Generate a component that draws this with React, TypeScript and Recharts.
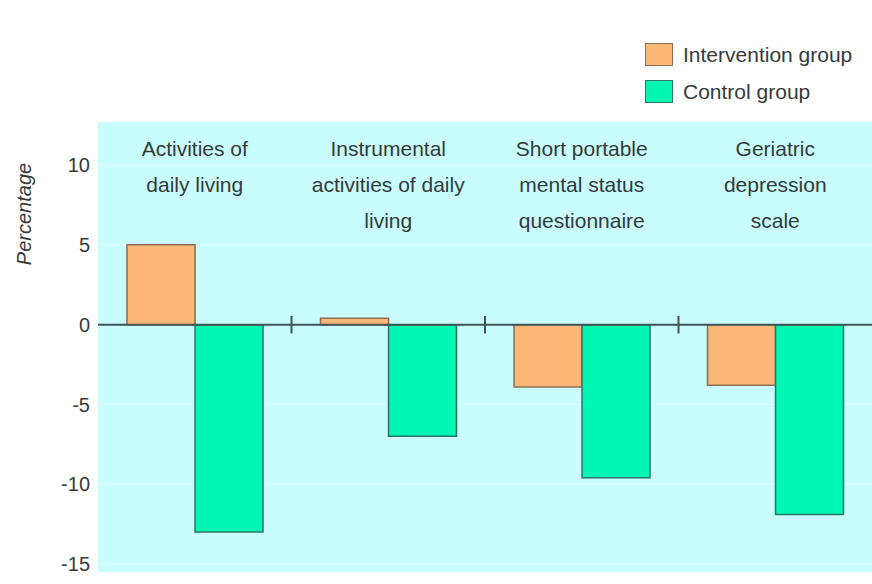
import React from 'react';
import {
  BarChart,
  Bar,
  XAxis,
  YAxis,
  CartesianGrid,
  ReferenceLine,
  Legend,
} from 'recharts';

const CATEGORIES = [
  'Activities of\ndaily living',
  'Instrumental\nactivities of daily\nliving',
  'Short portable\nmental status\nquestionnaire',
  'Geriatric\ndepression\nscale',
];
const INTERVENTION = [5, 0.4, -3.9, -3.8];
const CONTROL = [-13, -7, -9.6, -11.9];
const Y_TICKS = [10, 5, 0, -5, -10, -15];

const SERIES = [
  { key: 'intervention', name: 'Intervention group', fill: '#fdb878', stroke: '#8c6d52' },
  { key: 'control', name: 'Control group', fill: '#00f7b3', stroke: '#2b7565' },
];

const data = CATEGORIES.map((c, i) => ({
  name: c,
  intervention: INTERVENTION[i],
  control: CONTROL[i],
}));

const FONT = '"Liberation Sans", Arial, sans-serif';
const TEXT = '#333b3b';

const CategoryTick = (props: any) => {
  const { x, y, payload } = props;
  const lines = String(payload.value).split('\n');
  return (
    <text x={x} y={y + 42} textAnchor="middle" fontSize={21} fill={TEXT} fontFamily={FONT}>
      {lines.map((l, i) => (
        <tspan key={i} x={x} dy={i === 0 ? 0 : 36}>
          {l}
        </tspan>
      ))}
    </text>
  );
};

const PercentLabel = ({ viewBox }: any) => {
  const x = viewBox.x + 24;
  const y = viewBox.y + 92;
  return (
    <text
      x={x}
      y={y}
      transform={`rotate(-90 ${x} ${y})`}
      textAnchor="middle"
      dominantBaseline="central"
      fontSize={20}
      fontStyle="italic"
      fill={TEXT}
      fontFamily={FONT}
    >
      Percentage
    </text>
  );
};

const LegendBox = () => (
  <div style={{ fontFamily: FONT, fontSize: 21, color: TEXT }}>
    {SERIES.map((s) => (
      <div key={s.key} style={{ display: 'flex', alignItems: 'center', height: 37 }}>
        <span
          style={{
            display: 'inline-block',
            width: 26,
            height: 21,
            background: s.fill,
            border: `1.5px solid ${s.stroke}`,
            marginRight: 10,
          }}
        />
        {s.name}
      </div>
    ))}
  </div>
);

export default function App() {
  return (
    <div style={{ position: 'absolute', left: 0, top: 0, background: '#fff' }}>
      <BarChart
        width={872}
        height={584}
        data={data}
        margin={{ top: 121, right: 0, left: 0, bottom: 12 }}
        barCategoryGap="15%"
        barGap={0}
      >
        <CartesianGrid
          fill="#c9fcfc"
          stroke="#e4ffff"
          strokeOpacity={0.8}
          vertical={false}
        />
        <XAxis
          dataKey="name"
          orientation="top"
          height={1}
          axisLine={false}
          tickLine={false}
          interval={0}
          tick={(p: any) => <CategoryTick {...p} />}
        />
        <YAxis
          width={98}
          domain={[-15.5, 12.7]}
          ticks={Y_TICKS}
          allowDataOverflow
          axisLine={false}
          tickLine={false}
          tickSize={0}
          tickMargin={8}
          tick={{ fontSize: 20, fill: TEXT, fontFamily: FONT }}
          label={<PercentLabel />}
        />
        <Legend
          layout="horizontal"
          verticalAlign="middle"
          align="center"
          content={<LegendBox />}
          wrapperStyle={{ top: 36, left: 645, width: 227 }}
        />
        {SERIES.map((s) => (
          <Bar
            key={s.key}
            dataKey={s.key}
            name={s.name}
            fill={s.fill}
            stroke={s.stroke}
            strokeWidth={1.5}
            isAnimationActive={false}
          />
        ))}
        <ReferenceLine y={0} stroke="#3d5553" strokeWidth={2} />
        {CATEGORIES.slice(1).map((c) => (
          <ReferenceLine
            key={c}
            segment={[
              { x: c, y: -0.55 },
              { x: c, y: 0.55 },
            ]}
            position="start"
            stroke="#3d5553"
            strokeWidth={2}
          />
        ))}
      </BarChart>
    </div>
  );
}
